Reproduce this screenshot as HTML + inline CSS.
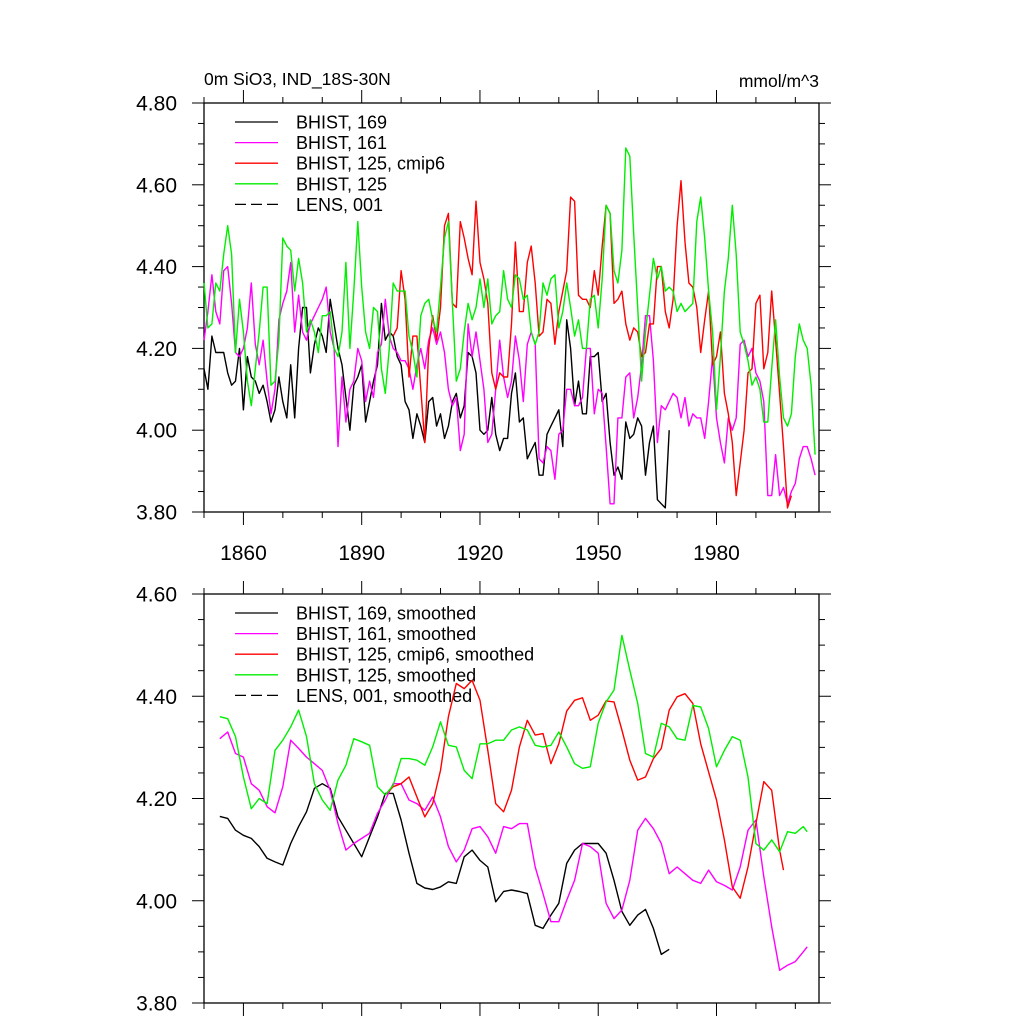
<!DOCTYPE html>
<html><head><meta charset="utf-8"><style>
html,body{margin:0;padding:0;background:#fff;}
svg{display:block;font-family:"Liberation Sans",Arial,sans-serif;}
</style></head><body>
<svg id="chart" width="1024" height="1024" viewBox="0 0 1024 1024" xmlns="http://www.w3.org/2000/svg">
<text x="204" y="85" font-size="17.5" fill="#000">0m SiO3, IND_18S-30N</text>
<text x="819" y="87" font-size="17.5" fill="#000" text-anchor="end">mmol/m^3</text>
<g id="top"></g>
<g id="bot"></g>
</svg>
<script>
// ---------- data: top panel (annual, starting 1850) ----------
const blackStart = 1850;
const blackVals = [4.15,4.10,4.23,4.19,4.19,4.19,4.14,4.11,4.12,4.20,4.05,4.18,4.13,4.12,4.09,4.11,4.07,4.02,4.05,4.13,4.07,4.03,4.16,4.03,4.20,4.30,4.30,4.14,4.21,4.25,4.23,4.19,4.32,4.26,4.20,4.16,4.08,4.00,4.11,4.13,4.16,4.02,4.07,4.12,4.16,4.31,4.22,4.24,4.23,4.18,4.16,4.07,4.05,3.98,4.04,
4.01,3.97,4.07,4.08,4.01,4.04,3.98,4.01,4.07,4.09,4.03,4.06,4.19,4.18,4.14,4.00,3.99,4.00,4.08,3.99,3.95,3.98,3.98,4.09,4.14,4.02,4.03,3.93,3.95,3.97,3.89,3.89,3.99,4.01,4.03,4.05,3.96,4.27,4.20,4.06,4.12,4.04,4.04,4.18,4.18,4.19,4.07,4.09,3.97,3.89,3.91,3.88,4.02,3.98,3.99,4.03,4.01,3.89,3.97,4.01,3.83,3.82,3.81,4.00];
const magentaStart = 1850;
const magentaVals = [4.22,4.29,4.38,4.29,4.26,4.39,4.40,4.31,4.19,4.18,4.20,4.25,4.36,4.21,4.16,4.22,4.12,4.04,4.10,4.27,4.31,4.34,4.41,4.24,4.33,4.24,4.22,4.26,4.28,4.30,4.32,4.35,4.24,4.20,3.96,4.13,4.02,4.10,4.12,4.20,4.17,4.07,4.12,4.08,4.19,4.21,4.32,4.23,4.20,4.19,4.17,4.17,4.15,4.10,4.16,
4.20,4.15,4.22,4.25,4.21,4.24,4.19,4.10,4.06,4.08,3.95,3.99,4.26,4.18,4.24,4.17,4.10,3.97,3.99,4.10,4.22,4.13,4.08,4.12,4.23,4.17,4.07,4.21,4.24,4.21,3.93,3.92,3.96,3.95,3.88,3.99,4.00,4.10,4.10,4.06,4.06,4.08,4.20,4.20,4.04,4.10,4.09,3.96,3.82,3.82,4.03,4.03,4.13,
4.14,4.03,4.08,4.16,4.28,4.28,4.17,3.97,4.06,4.05,4.07,4.09,4.08,4.03,4.08,4.01,4.04,4.03,4.03,3.98,4.07,4.18,4.03,3.97,3.92,4.03,4.00,4.03,4.21,4.22,4.18,4.20,4.14,4.12,4.07,3.84,3.84,3.94,3.84,3.86,3.82,3.85,3.87,3.93,3.96,3.96,3.93,3.89];
const redStart = 1898;
const redVals = [4.23,4.25,4.39,4.32,4.13,4.23,4.23,
4.10,3.97,4.20,4.28,4.22,4.30,4.50,4.53,4.31,4.30,4.51,4.47,4.42,4.38,4.56,4.41,4.37,4.31,4.14,4.10,4.14,4.13,4.13,4.26,4.46,4.29,4.29,4.41,4.45,4.36,4.23,4.24,4.32,4.31,4.21,4.29,4.34,4.39,4.57,4.56,4.33,4.32,4.32,4.30,4.39,4.33,4.45,4.55,4.53,4.31,4.32,4.34,4.26,
4.22,4.25,4.24,4.18,4.19,4.26,4.26,4.40,4.40,4.29,4.25,4.32,4.50,4.61,4.46,4.36,4.35,4.30,4.19,4.27,4.34,4.16,4.18,4.24,4.09,4.04,3.97,3.84,3.92,4.00,4.14,4.15,4.31,4.33,4.15,4.19,4.34,4.22,4.09,3.96,3.81,3.84];
const greenStart = 1850;
const greenVals = [4.36,4.25,4.26,4.36,4.34,4.43,4.50,4.43,4.19,4.32,4.24,4.12,4.06,4.15,4.24,4.35,4.35,4.11,4.12,4.22,4.47,4.45,4.44,4.34,4.42,4.36,4.24,4.27,4.24,4.19,4.28,4.28,4.29,4.20,4.18,4.24,4.41,4.20,4.34,4.51,4.35,4.24,4.20,4.30,4.29,4.15,4.09,4.20,4.36,4.34,4.34,4.34,4.23,4.19,4.13,
4.28,4.31,4.32,4.27,4.24,4.35,4.47,4.51,4.31,4.12,4.15,4.24,4.31,4.27,4.30,4.37,4.30,4.37,4.26,4.28,4.29,4.39,4.32,4.30,4.38,4.37,4.32,4.33,4.24,4.21,4.24,4.36,4.33,4.37,4.38,4.25,4.29,4.36,4.30,4.23,4.27,4.20,4.20,4.32,4.33,4.25,4.37,4.55,4.53,4.39,4.36,4.44,4.69,
4.67,4.48,4.30,4.12,4.24,4.33,4.42,4.37,4.40,4.34,4.35,4.34,4.29,4.31,4.29,4.30,4.31,4.51,4.57,4.47,4.34,4.24,4.05,4.18,4.34,4.42,4.55,4.43,4.24,4.21,4.17,4.11,4.13,4.10,4.02,4.02,4.15,4.27,4.13,4.03,4.01,4.04,4.18,4.26,4.22,4.20,4.11,3.94];

// ---------- data: bottom panel (smoothed, sampled years) ----------
const sBlackYears = [1854,1856,1858,1860,1862,1864,1866,1868,1870,1872,1874,1876,1878,1880,1882,1884,1886,1888,1890,1892,1894,1896,1898,1900,1902,1904,1906,1908,1910,1912,1914,1916,1918,1920,1922,1924,1926,1928,1930,1932,1934,1936,1938,1940,1942,1944,1946,1948,1950,1952,1954,1956,1958,1960,1962,1964,1966,1968];
const sBlackVals = [4.165,4.161,4.138,4.128,4.122,4.106,4.083,4.076,4.070,4.112,4.145,4.174,4.220,4.229,4.220,4.164,4.138,4.112,4.086,4.125,4.164,4.210,4.210,4.158,4.093,4.034,4.025,4.022,4.027,4.037,4.034,4.086,4.099,4.079,4.066,3.998,4.018,4.021,4.018,4.014,3.952,3.946,3.972,3.995,4.073,4.099,4.112,4.112,4.112,4.093,4.040,3.979,3.952,3.972,3.983,3.946,3.895,3.905];
const sMagYears = [1854,1856,1858,1860,1862,1864,1866,1868,1870,1872,1874,1876,1878,1880,1882,1884,1886,1888,1890,1892,1894,1896,1898,1900,1902,1904,1906,1908,1910,1912,1914,1916,1918,1920,1922,1924,1926,1928,1930,1932,1934,1936,1938,1940,1942,1944,1946,1948,1950,1952,1954,1956,1958,1960,1962,1964,1966,1968,1970,1972,1974,1976,1978,1980,1982,1984,1986,1988,1990,1992,1994,1996,1998,2000,2002,2003];
const sMagVals = [4.317,4.330,4.288,4.281,4.229,4.216,4.184,4.172,4.223,4.314,4.298,4.281,4.268,4.255,4.216,4.151,4.099,4.112,4.122,4.132,4.171,4.197,4.229,4.229,4.197,4.190,4.177,4.203,4.164,4.106,4.076,4.099,4.141,4.145,4.125,4.093,4.145,4.141,4.151,4.151,4.066,4.014,3.959,3.959,4.001,4.040,4.112,4.106,4.093,3.995,3.965,3.982,4.040,4.138,4.161,4.141,4.112,4.053,4.066,4.053,4.040,4.034,4.060,4.037,4.030,4.021,4.066,4.138,4.158,4.047,3.949,3.864,3.874,3.881,3.900,3.910];
const sRedYears = [1896,1898,1900,1902,1904,1906,1908,1910,1912,1914,1916,1918,1920,1922,1924,1926,1928,1930,1932,1934,1936,1938,1940,1942,1944,1946,1948,1950,1952,1954,1956,1958,1960,1962,1964,1966,1968,1970,1972,1974,1976,1978,1980,1982,1984,1986,1988,1990,1992,1994,1996,1997];
const sRedVals = [4.207,4.223,4.229,4.242,4.203,4.164,4.190,4.255,4.360,4.425,4.415,4.431,4.392,4.294,4.190,4.174,4.216,4.301,4.353,4.324,4.327,4.268,4.307,4.371,4.392,4.397,4.353,4.363,4.391,4.389,4.334,4.275,4.236,4.242,4.278,4.298,4.373,4.399,4.405,4.386,4.307,4.252,4.197,4.119,4.027,4.005,4.066,4.151,4.233,4.216,4.099,4.060];
const sGreenYears = [1854,1856,1858,1860,1862,1864,1866,1868,1870,1872,1874,1876,1878,1880,1882,1884,1886,1888,1890,1892,1894,1896,1898,1900,1902,1904,1906,1908,1910,1912,1914,1916,1918,1920,1922,1924,1926,1928,1930,1932,1934,1936,1938,1940,1942,1944,1946,1948,1950,1952,1954,1956,1958,1960,1962,1964,1966,1968,1970,1972,1974,1976,1978,1980,1982,1984,1986,1988,1990,1992,1994,1996,1998,2000,2002,2003];
const sGreenVals = [4.360,4.356,4.321,4.242,4.180,4.200,4.190,4.294,4.314,4.340,4.373,4.321,4.229,4.197,4.177,4.236,4.265,4.317,4.311,4.304,4.223,4.207,4.226,4.278,4.278,4.275,4.265,4.301,4.350,4.304,4.301,4.255,4.239,4.307,4.307,4.314,4.314,4.334,4.340,4.334,4.304,4.301,4.304,4.330,4.301,4.268,4.259,4.262,4.347,4.389,4.412,4.519,4.451,4.386,4.288,4.281,4.347,4.340,4.317,4.314,4.382,4.379,4.337,4.262,4.294,4.321,4.314,4.242,4.112,4.099,4.119,4.096,4.135,4.132,4.145,4.135];

const xTickLabels = ["1860","1890","1920","1950","1980"];
const topYTickLabels = ["3.80","4.00","4.20","4.40","4.60","4.80"];
const botYTickLabels = ["3.80","4.00","4.20","4.40","4.60"];
const topLegend = ["BHIST, 169","BHIST, 161","BHIST, 125, cmip6","BHIST, 125","LENS, 001"];
const botLegend = ["BHIST, 169, smoothed","BHIST, 161, smoothed","BHIST, 125, cmip6, smoothed","BHIST, 125, smoothed","LENS, 001, smoothed"];

// ---------- drawing ----------
const NS = "http://www.w3.org/2000/svg";
const X0 = 204, X1 = 819, YR0 = 1850, YR1 = 2006;
function xs(yr){ return X0 + (yr - YR0) * (X1 - X0) / (YR1 - YR0); }
function mk(tag, attrs, parent){
  const e = document.createElementNS(NS, tag);
  for (const k in attrs) e.setAttribute(k, attrs[k]);
  parent.appendChild(e);
  return e;
}
const colors = ["#000000","#ff00ff","#ff0000","#00ee00"];

function panel(g, top, bot, vmin, vmax, yLabels, legend, showX, prefix){
  const ys = v => bot - (v - vmin) * (bot - top) / (vmax - vmin);
  const fr = mk("rect", {x:X0, y:top, width:X1-X0, height:bot-top, fill:"none", stroke:"#000", "stroke-width":1.3}, g);
  
  
  for (let v = vmin; v <= vmax + 1e-9; v += 0.05) {
    const major = Math.abs(Math.round(v*100) % 20) < 1;
    const L = major ? 12 : 6;
    const y = ys(v);
    const t1 = mk("line", {x1:X0-L, x2:X0, y1:y, y2:y, stroke:"#000", "stroke-width":1}, g);
    
    
    const t2 = mk("line", {x1:X1, x2:X1+L, y1:y, y2:y, stroke:"#000", "stroke-width":1}, g);
    
    
  }
  yLabels.forEach(lbl => {
    const t = mk("text", {x:177, y:ys(parseFloat(lbl))+7.5, "font-size":21, "text-anchor":"end", fill:"#000"}, g);
    t.textContent = lbl;
    
    
  });
  for (let yr = 1850; yr <= 2006; yr += 10) {
    const major = (yr - 1860) % 30 === 0;
    const L = major ? 13 : 6;
    const x = xs(yr);
    const a = mk("line", {x1:x, x2:x, y1:bot, y2:bot+L, stroke:"#000", "stroke-width":1}, g);
    
    
    const b = mk("line", {x1:x, x2:x, y1:top-L, y2:top, stroke:"#000", "stroke-width":1}, g);
    
    
  }
  if (showX) xTickLabels.forEach(lbl => {
    const t = mk("text", {x:xs(parseFloat(lbl)), y:bot+48, "font-size":21, "text-anchor":"middle", fill:"#000"}, g);
    t.textContent = lbl;
    
    
  });
  legend.forEach((lbl, i) => {
    const y = top + 19 + i * 20.6;
    const ln = mk("line", {x1:235, x2:278, y1:y, y2:y, stroke: i < 4 ? colors[i] : "#000", "stroke-width":1.3}, g);
    if (i === 4) ln.setAttribute("stroke-dasharray", "11 5");
    
    
    const t = mk("text", {x:296, y:y+6.5, "font-size":18, fill:"#000"}, g);
    t.textContent = lbl;
    
    
  });
  return ys;
}
function series(g, ys, years, vals, color, name){
  const pts = vals.map((v, i) => xs(years[i]).toFixed(1) + "," + ys(v).toFixed(1)).join(" ");
  const p = mk("polyline", {points:pts, fill:"none", stroke:color, "stroke-width":1.4, "stroke-linejoin":"round"}, g);
  
  
}
function annual(start, vals){ return vals.map((_, i) => start + i); }

const gt = document.getElementById("top");
const yt = panel(gt, 103, 512, 3.8, 4.8, topYTickLabels, topLegend, true, "top");
series(gt, yt, annual(blackStart, blackVals), blackVals, colors[0], "line-bhist-169");
series(gt, yt, annual(magentaStart, magentaVals), magentaVals, colors[1], "line-bhist-161");
series(gt, yt, annual(redStart, redVals), redVals, colors[2], "line-bhist-125-cmip6");
series(gt, yt, annual(greenStart, greenVals), greenVals, colors[3], "line-bhist-125");

const gb = document.getElementById("bot");
const yb = panel(gb, 594, 1003, 3.8, 4.6, botYTickLabels, botLegend, false, "bottom");
series(gb, yb, sBlackYears, sBlackVals, colors[0], "line-bhist-169-smoothed");
series(gb, yb, sMagYears, sMagVals, colors[1], "line-bhist-161-smoothed");
series(gb, yb, sRedYears, sRedVals, colors[2], "line-bhist-125-cmip6-smoothed");
series(gb, yb, sGreenYears, sGreenVals, colors[3], "line-bhist-125-smoothed");
</script>
</body></html>
